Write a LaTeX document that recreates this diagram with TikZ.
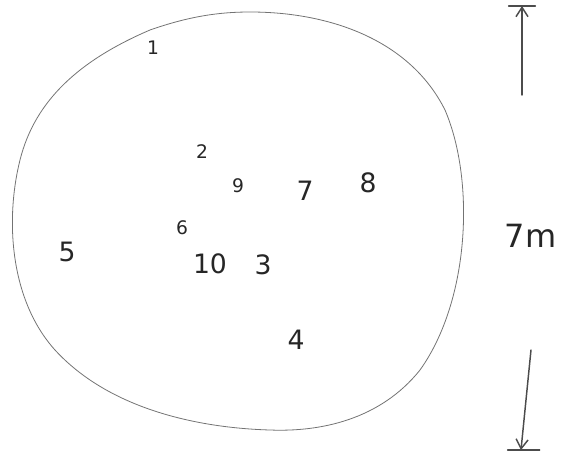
\documentclass[tikz,border=0pt]{standalone}
\usepackage{fontspec}
\setmainfont{DejaVu Sans}
\usetikzlibrary{arrows.meta}
\tikzset{
  lbl/.style={font=\fontsize{14}{14}\selectfont, text=black!85},
  biglbl/.style={font=\fontsize{20}{20}\selectfont, text=black!85},
  pen/.style={draw=black!70, line width=0.8pt, line cap=round, line join=round},
  dimarrow/.style={pen, line width=1.1pt, -{Straight Barb[length=7pt,width=9pt]}},
}
\begin{document}
\begin{tikzpicture}[x=0.75pt,y=-0.75pt]
\useasboundingbox (0,0) rectangle (574,456);
% blob outline
\draw[pen, draw=black!55, line width=0.6pt]
  (250,12) .. controls (330,12) and (410,40) .. (445,110)
  .. controls (475,180) and (470,300) .. (420,370)
  .. controls (380,420) and (320,432) .. (270,430)
  .. controls (200,428) and (110,410) .. (55,350)
  .. controls (10,300) and (5,220) .. (20,160)
  .. controls (35,100) and (80,60) .. (150,30)
  .. controls (190,16) and (220,12) .. (250,12) -- cycle;
% labels
\node[lbl] (n1) at (153,48) {1};
\node[lbl] (n2) at (202,152) {2};
\node[lbl] (n9) at (238,186) {9};
\node[biglbl] (n7) at (305,191) {7};
\node[biglbl] (n8) at (368,183) {8};
\node[biglbl] (n5) at (67,252) {5};
\node[lbl] (n6) at (182,228) {6};
\node[biglbl] (n10) at (210,264) {10};
\node[biglbl] (n3) at (263,265) {3};
\node[biglbl] (n4) at (296,340) {4};
\node[font=\fontsize{24}{24}\selectfont, text=black!85, anchor=west] (dim) at (500,236) {7m};
% dimension arrows
\coordinate (upS) at (522,95);
\coordinate (upE) at (522,6);
\coordinate (dnS) at (531,350);
\coordinate (dnE) at (521,450);
\draw[dimarrow] (upS) -- (upE);
\draw[dimarrow] (dnS) -- (dnE);
\draw[pen, line width=1.1pt] ([xshift=-10]upE) -- ([xshift=10]upE);
\draw[pen, line width=1.1pt] ([xshift=-10]dnE) -- ([xshift=14]dnE);
\end{tikzpicture}
\end{document}
